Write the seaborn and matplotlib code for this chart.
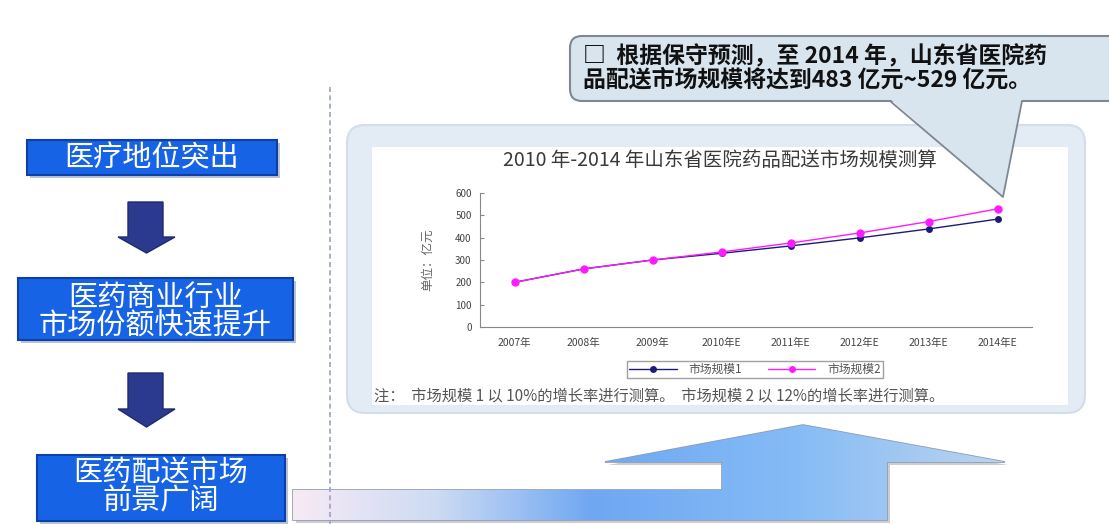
import numpy as np
import pandas as pd
import matplotlib
matplotlib.use("Agg")
import matplotlib.pyplot as plt
import seaborn as sns
from matplotlib.patches import FancyBboxPatch, Polygon, Rectangle
from matplotlib.colors import LinearSegmentedColormap

# ---------------- data ----------------
years = ["2007年", "2008年", "2009年", "2010年E", "2011年E", "2012年E", "2013年E", "2014年E"]
market1 = [200, 260, 300, 330, 363, 399, 439, 483]
market2 = [200, 260, 300, 336, 376, 421, 472, 529]
series_names = ["市场规模1", "市场规模2"]
yticks = [0, 100, 200, 300, 400, 500, 600]
chart_title = "2010 年-2014 年山东省医院药品配送市场规模测算"
y_label = "单位：亿元"
note_text = "注：  市场规模 1 以 10%的增长率进行测算。  市场规模 2 以 12%的增长率进行测算。"
callout_lines = ["□  根据保守预测，至 2014 年，山东省医院药",
                 "品配送市场规模将达到483 亿元~529 亿元。"]
flow_box1 = ["医疗地位突出"]
flow_box2 = ["医药商业行业", "市场份额快速提升"]
flow_box3 = ["医药配送市场", "前景广阔"]

# ---------------- style ----------------
sns.set_style("white")
plt.rcParams["font.family"] = ["Noto Sans CJK SC", "DejaVu Sans"]
plt.rcParams["axes.unicode_minus"] = False

W, H = 1109, 524
fig = plt.figure(figsize=(W / 100, H / 100), dpi=100)
fig.patch.set_facecolor("white")

bg = fig.add_axes([0, 0, 1, 1], zorder=0)
bg.set_xlim(0, W)
bg.set_ylim(H, 0)
bg.axis("off")

# dashed separator
bg.plot([330, 330], [87, H], ls=(0, (3, 2)), color="#9aa4c0", lw=1.2)

# chart panel
bg.add_patch(FancyBboxPatch((347, 125), 738, 288,
                            boxstyle="round,pad=0,rounding_size=18",
                            fc="#e3ebf4", ec="#d3deea", lw=1.5))
bg.add_patch(Rectangle((372, 147), 696, 258, fc="white", ec="none"))

# flow boxes on the left
box_fc, box_ec = "#1763e6", "#0d3fa8"
boxes = [((27, 140, 250, 35), flow_box1, [158]),
         ((18, 278, 275, 62), flow_box2, [298, 327]),
         ((37, 455, 248, 66), flow_box3, [473, 501])]
for (x, y, w, h), lines, ys in boxes:
    bg.add_patch(Rectangle((x + 3, y + 3), w, h, fc="#8d9bb5", ec="none", alpha=0.6))
    bg.add_patch(Rectangle((x, y), w, h, fc=box_fc, ec=box_ec, lw=1.5))
    cx = x + w / 2
    for txt, ty in zip(lines, ys):
        bg.text(cx, ty, txt, ha="center", va="center", color="white",
                fontsize=21, fontweight="medium")

# down arrows
for y0, y1, y2 in [(202, 237, 253), (373, 409, 427)]:
    bg.add_patch(Polygon([(128, y0), (163, y0), (163, y1), (175, y1),
                          (146.5, y2), (118, y1), (128, y1)],
                         closed=True, fc="#2b3a8f", ec="#1f2a6e", lw=1))

# big L-shaped arrow at the bottom
arrow_pts = [(293, 490), (722, 490), (722, 462), (605, 462), (803, 425),
             (1005, 462), (887, 462), (887, 520), (293, 520)]
shadow = Polygon([(px + 3, py + 3) for px, py in arrow_pts], closed=True,
                 fc="#a6aebb", ec="none", alpha=0.6)
bg.add_patch(shadow)
arrow = Polygon(arrow_pts, closed=True, fc="none", ec="#8f9bb0", lw=1.2)
bg.add_patch(arrow)
cmap = LinearSegmentedColormap.from_list(
    "arr", [(0, "#f7eaf5"), (0.2, "#cddbf3"), (0.42, "#6fa7f2"),
            (0.7, "#84bbf6"), (1.0, "#bcd4ee")])
grad = np.linspace(0, 1, 256).reshape(1, -1)
im = bg.imshow(grad, cmap=cmap, extent=(293, 1005, 520, 425), aspect="auto",
               zorder=1.5)
im.set_clip_path(arrow)
bg.set_xlim(0, W)
bg.set_ylim(H, 0)

# chart title / y label / note
bg.text(720, 160, chart_title, ha="center", va="center", fontsize=14,
        color="#3a3a3a", fontweight="medium")
bg.text(428, 260, y_label, rotation=90, ha="center", va="center",
        fontsize=9, color="#666666")
bg.text(374, 396, note_text, ha="left", va="center", fontsize=11,
        color="#555555")

# ---------------- line chart ----------------
ax = fig.add_axes([480 / W, 1 - 327 / H, 552 / W, 134 / H], zorder=2)
ax.patch.set_alpha(0)
pos = np.arange(len(years))
df = pd.DataFrame({
    "x": np.concatenate([pos, pos]),
    "value": market1 + market2,
    "series": [series_names[0]] * len(years) + [series_names[1]] * len(years),
})
sns.lineplot(data=df, x="x", y="value", hue="series",
             palette=["#1c1c78", "#ff1aff"], marker="o", markersize=5,
             markeredgewidth=0, linewidth=1, ax=ax)
ax.lines[1].set_markersize(6)
ax.set_xlim(-0.5, len(years) - 0.5)
ax.set_ylim(0, 600)
ax.set_yticks(yticks)
ax.set_xticks(pos)
ax.set_xticklabels(years)
ax.set_xticks(np.arange(-0.5, len(years), 1), minor=True)
ax.tick_params(axis="x", which="major", length=0, pad=8, labelsize=7.5,
               labelcolor="#444444")
ax.tick_params(axis="x", which="minor", length=3, direction="in",
               color="#888888")
ax.tick_params(axis="y", length=3, direction="in", pad=6, labelsize=7,
               labelcolor="#444444", color="#888888", left=True)
ax.set_xlabel("")
ax.set_ylabel("")
for s in ["top", "right"]:
    ax.spines[s].set_visible(False)
for s in ["left", "bottom"]:
    ax.spines[s].set_color("#888888")
    ax.spines[s].set_linewidth(0.8)
handles, labels = ax.get_legend_handles_labels()
ax.legend(handles, labels, loc="center", bbox_to_anchor=(755 / W, 1 - 369.5 / H),
          bbox_transform=fig.transFigure, ncol=2, fontsize=8.5, frameon=True,
          fancybox=False, edgecolor="#888888", borderpad=0.2,
          handlelength=4, columnspacing=2.2, handletextpad=1.0,
          labelcolor="#555555")

# ---------------- callout (on top) ----------------
top = fig.add_axes([0, 0, 1, 1], zorder=5)
top.set_xlim(0, W)
top.set_ylim(H, 0)
top.axis("off")
top.patch.set_alpha(0)
call_fc, call_ec = "#d8e4ee", "#7d8894"
top.add_patch(FancyBboxPatch((570, 36), 560, 65,
                             boxstyle="round,pad=0,rounding_size=12",
                             fc=call_fc, ec=call_ec, lw=1.5))
top.add_patch(Polygon([(890, 99), (1022, 99), (1003, 197)], closed=True,
                      fc=call_fc, ec="none"))
top.plot([890, 1003, 1022], [101, 197, 101], color=call_ec, lw=1.3)
top.text(583, 57, callout_lines[0], ha="left", va="center", fontsize=16.5,
         fontweight="bold", color="#111111")
top.text(583, 80, callout_lines[1], ha="left", va="center", fontsize=16.5,
         fontweight="bold", color="#111111")

fig.savefig("out.png", dpi=100, facecolor="white")
